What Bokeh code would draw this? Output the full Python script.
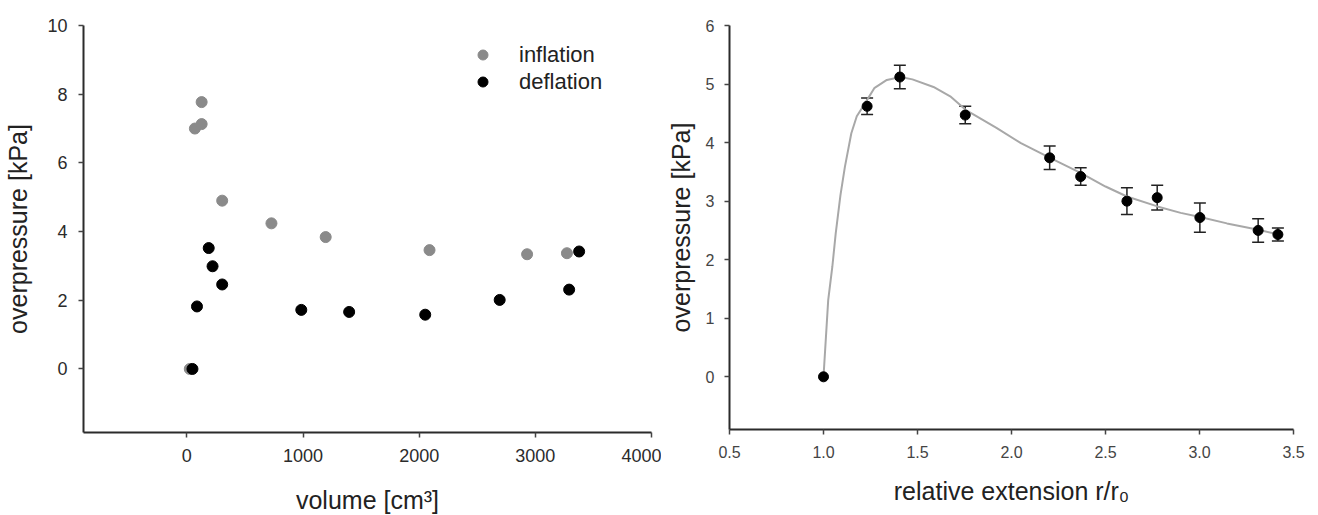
from bokeh.plotting import figure
from bokeh.layouts import row
from bokeh.models import (ColumnDataSource, FixedTicker, Legend, LegendItem,
                          Whisker, TeeHead, Range1d, NumeralTickFormatter)
from bokeh.embed import file_html
from bokeh.resources import INLINE

# ---------------- data: left panel (volume vs overpressure) ----------------
infl_volume = [25, 69, 127, 127, 304, 728, 1195, 2089, 2929, 3272]
infl_pressure = [0.0, 7.0, 7.13, 7.77, 4.90, 4.24, 3.84, 3.46, 3.34, 3.37]
defl_volume = [48, 87, 188, 221, 304, 985, 1397, 2052, 2693, 3291, 3377]
defl_pressure = [0.0, 1.82, 3.52, 2.99, 2.46, 1.72, 1.66, 1.58, 2.01, 2.31, 3.42]
left_xticks = [0, 1000, 2000, 3000, 4000]
left_yticks = [0, 2, 4, 6, 8, 10]

# ---------------- data: right panel (relative extension) ----------------
ext = [1.0, 1.232, 1.406, 1.754, 2.203, 2.368, 2.614, 2.775, 3.002, 3.312, 3.417]
ext_pressure = [0.0, 4.62, 5.12, 4.47, 3.74, 3.42, 3.00, 3.06, 2.72, 2.50, 2.43]
ext_err = [0.0, 0.14, 0.20, 0.15, 0.20, 0.15, 0.23, 0.21, 0.25, 0.20, 0.11]
fit_x = [1.0, 1.025, 1.047, 1.065, 1.09, 1.114, 1.148, 1.177, 1.215, 1.27,
         1.337, 1.41, 1.473, 1.585, 1.674, 1.756, 1.92, 2.05, 2.205, 2.37,
         2.50, 2.614, 2.776, 2.90, 3.003, 3.146, 3.313, 3.436]
fit_y = [0.0, 1.31, 1.88, 2.45, 3.1, 3.59, 4.16, 4.45, 4.64, 4.93,
         5.07, 5.12, 5.08, 4.95, 4.79, 4.56, 4.25, 3.99, 3.74, 3.48,
         3.25, 3.08, 2.91, 2.80, 2.73, 2.62, 2.51, 2.42]
right_xticks = [0.5, 1.0, 1.5, 2.0, 2.5, 3.0, 3.5]
right_yticks = [0, 1, 2, 3, 4, 5, 6]

FONT = "Liberation Sans"


def style(p, tick_size, tick_color, x_std, y_std, y_tick_std):
    p.xgrid.visible = False
    p.ygrid.visible = False
    p.outline_line_color = None
    for ax in (p.xaxis[0], p.yaxis[0]):
        ax.axis_line_color = "#2b2b2b"
        ax.axis_line_width = 2
        ax.major_tick_line_color = "#444444"
        ax.major_tick_line_width = 1.5
        ax.major_tick_out = 5
        ax.major_tick_in = 0
        ax.minor_tick_line_color = None
        ax.major_label_text_font = FONT
        ax.major_label_text_font_size = tick_size
        ax.major_label_text_color = tick_color
        ax.axis_label_text_font = FONT
        ax.axis_label_text_font_style = "normal"
        ax.axis_label_text_color = "#222222"
        ax.axis_label_text_font_size = "25px"
    p.xaxis[0].major_label_standoff = 11
    p.yaxis[0].major_label_standoff = y_tick_std
    p.xaxis[0].axis_label_standoff = x_std
    p.yaxis[0].axis_label_standoff = y_std


# ---------------- left figure ----------------
p1 = figure(frame_width=568, frame_height=407,
            min_border_left=83, min_border_right=10,
            min_border_top=22, min_border_bottom=85,
            x_range=Range1d(-890, 4000), y_range=Range1d(-1.85, 10),
            output_backend="svg", toolbar_location=None)
p1.xaxis.ticker = FixedTicker(ticks=left_xticks)
p1.yaxis.ticker = FixedTicker(ticks=left_yticks)
p1.xaxis.axis_label = "volume [cm³]"
p1.yaxis.axis_label = "overpressure [kPa]"
style(p1, "18px", "#2b2b2b", 21, 12, 11)

r_in = p1.scatter(infl_volume, infl_pressure, size=11, color="#8a8a8a")
r_de = p1.scatter(defl_volume, defl_pressure, size=11, color="#000000")

legend = Legend(items=[LegendItem(label="inflation", renderers=[r_in]),
                       LegendItem(label="deflation", renderers=[r_de])],
                location=(387, 337), padding=0, margin=0, spacing=0,
                glyph_width=25, glyph_height=27, label_height=27,
                label_standoff=24, label_text_font=FONT,
                label_text_font_size="22px", label_text_color="#222222",
                background_fill_alpha=0, border_line_color=None)
p1.add_layout(legend)

# ---------------- right figure ----------------
p2 = figure(frame_width=564, frame_height=404,
            min_border_left=68, min_border_right=17,
            min_border_top=25, min_border_bottom=85,
            x_range=Range1d(0.5, 3.5), y_range=Range1d(-0.9, 6),
            output_backend="svg", toolbar_location=None)
p2.xaxis.ticker = FixedTicker(ticks=right_xticks)
p2.yaxis.ticker = FixedTicker(ticks=right_yticks)
p2.xaxis.formatter = NumeralTickFormatter(format="0.0")
p2.xaxis.axis_label = "relative extension r/r₀"
p2.yaxis.axis_label = "overpressure [kPa]"
style(p2, "16px", "#444444", 16, 8, 10)

p2.line(fit_x, fit_y, line_color="#a8a8a8", line_width=2)

err_idx = [i for i, e in enumerate(ext_err) if e > 0]
err_src = ColumnDataSource(data=dict(
    x=[ext[i] for i in err_idx],
    upper=[ext_pressure[i] + ext_err[i] for i in err_idx],
    lower=[ext_pressure[i] - ext_err[i] for i in err_idx],
))
whisk = Whisker(source=err_src, base="x", upper="upper", lower="lower",
                dimension="height", line_color="#222222", line_width=1.5,
                upper_head=TeeHead(size=12, line_color="#222222", line_width=1.5),
                lower_head=TeeHead(size=12, line_color="#222222", line_width=1.5))
p2.add_layout(whisk)
p2.scatter(ext, ext_pressure, size=10, color="#000000")

layout = row(p1, p2, spacing=0)
open("out.html", "w").write(file_html(layout, INLINE))
